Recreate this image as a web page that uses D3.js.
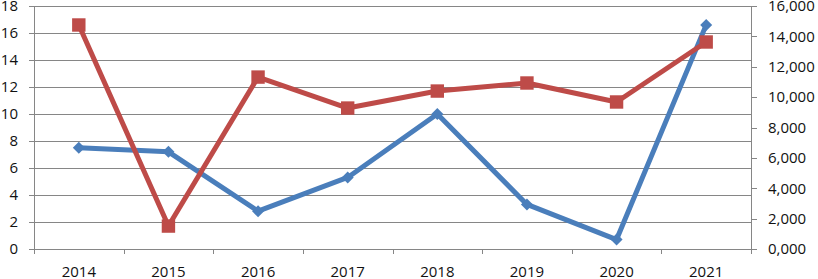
<!DOCTYPE html>
<html lang="en">
<head>
    <meta charset="UTF-8">
    <title>Two axis lines</title>
    <script src="https://d3js.org/d3.v7.min.js"></script>
    <style>
        body { margin: 0; background: #fff; }
        text { font-family: "Open Sans", sans-serif; font-size: 15px; fill: #111; }
        .grid line { stroke: #868686; stroke-width: 1; }
        .axis-line { stroke: #868686; stroke-width: 1; }
    </style>
</head>
<body>
<script>
    const width  = 818;
    const height = 279;

    const years = ["2014", "2015", "2016", "2017", "2018", "2019", "2020", "2021"];
    const blueValues = [7.5, 7.2, 2.8, 5.3, 10.0, 3.3, 0.7, 16.6];
    const redValues = [14750, 1510, 11320, 9280, 10400, 10930, 9680, 13630];
    const leftTicks = [0, 2, 4, 6, 8, 10, 12, 14, 16, 18];
    const rightTicks = [0, 2000, 4000, 6000, 8000, 10000, 12000, 14000, 16000];

    const plotLeft = 34, plotRight = 751, plotTop = 6, plotBottom = 249;

    const x = d3.scaleBand().domain(years).range([plotLeft, plotRight]).padding(0);
    const yL = d3.scaleLinear().domain([0, 18]).range([plotBottom, plotTop]);
    const yR = d3.scaleLinear().domain([0, 16000]).range([plotBottom, plotTop]);

    const svg = d3.select("body").append("svg").attr("width", width).attr("height", height);

    // gridlines follow the left axis
    svg.append("g").attr("class", "grid")
        .selectAll("line").data(leftTicks).enter().append("line")
        .attr("x1", plotLeft - 5).attr("x2", plotRight)
        .attr("y1", d => Math.round(yL(d)) + 0.5).attr("y2", d => Math.round(yL(d)) + 0.5);

    // axis lines
    svg.append("line").attr("class", "axis-line")
        .attr("x1", plotLeft + 0.5).attr("x2", plotLeft + 0.5).attr("y1", plotTop).attr("y2", plotBottom);
    svg.append("line").attr("class", "axis-line")
        .attr("x1", plotRight + 0.5).attr("x2", plotRight + 0.5).attr("y1", plotTop).attr("y2", plotBottom);

    // left labels
    svg.append("g").selectAll("text").data(leftTicks).enter().append("text")
        .attr("x", 18).attr("y", d => yL(d)).attr("dy", "0.35em")
        .attr("text-anchor", "end").text(d => d);

    // right ticks and labels
    const fmt = d => d3.format(",")(d).replace(/^0$/, "0,000");
    svg.append("g").selectAll("line").data(rightTicks).enter().append("line")
        .attr("class", "axis-line")
        .attr("x1", plotRight).attr("x2", plotRight + 6)
        .attr("y1", d => Math.round(yR(d)) + 0.5).attr("y2", d => Math.round(yR(d)) + 0.5);
    svg.append("g").selectAll("text").data(rightTicks).enter().append("text")
        .attr("x", 768).attr("y", d => yR(d)).attr("dy", "0.35em")
        .attr("text-anchor", "start").text(fmt);

    // category boundary ticks and labels
    const bounds = years.map(d => x(d)).concat([plotRight]);
    svg.append("g").selectAll("line").data(bounds).enter().append("line")
        .attr("class", "axis-line")
        .attr("x1", d => Math.round(d) + 0.5).attr("x2", d => Math.round(d) + 0.5)
        .attr("y1", plotBottom).attr("y2", plotBottom + 5);
    svg.append("g").selectAll("text").data(years).enter().append("text")
        .attr("x", d => x(d) + x.bandwidth() / 2).attr("y", 277)
        .attr("text-anchor", "middle").text(d => d);

    const cx = d => x(d) + x.bandwidth() / 2;

    // blue series (left axis)
    const blueLine = d3.line().x((d, i) => cx(years[i])).y(d => yL(d));
    svg.append("path").datum(blueValues)
        .attr("d", blueLine).attr("fill", "none")
        .attr("stroke", "#4a7ebb").attr("stroke-width", 5).attr("stroke-linejoin", "round");
    svg.append("g").selectAll("path").data(blueValues).enter().append("path")
        .attr("d", d3.symbol().type(d3.symbolSquare).size(72))
        .attr("transform", (d, i) => `translate(${cx(years[i])},${yL(d)}) rotate(45)`)
        .attr("fill", "#4a7ebb");

    // red series (right axis)
    const redLine = d3.line().x((d, i) => cx(years[i])).y(d => yR(d));
    svg.append("path").datum(redValues)
        .attr("d", redLine).attr("fill", "none")
        .attr("stroke", "#be4b48").attr("stroke-width", 5).attr("stroke-linejoin", "round");
    svg.append("g").selectAll("path").data(redValues).enter().append("path")
        .attr("d", d3.symbol().type(d3.symbolSquare).size(180))
        .attr("transform", (d, i) => `translate(${cx(years[i])},${yR(d)})`)
        .attr("fill", "#be4b48");
</script>
</body>
</html>
